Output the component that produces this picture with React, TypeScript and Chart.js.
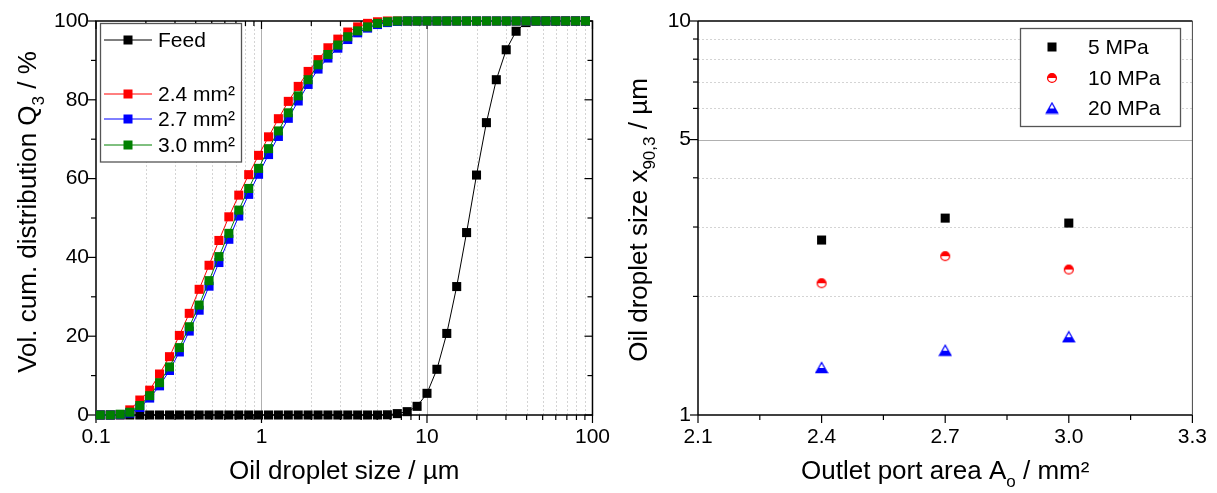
import React, { useEffect, useRef } from "react";
import { Chart, registerables } from "chart.js";
Chart.register(...registerables);

// ---------------- data: left panel (cumulative distribution) ----------------
const dropletSizes = [
  0.106, 0.122, 0.14, 0.16, 0.184, 0.211, 0.242, 0.278, 0.319, 0.366,
  0.42, 0.482, 0.553, 0.635, 0.729, 0.837, 0.96, 1.103, 1.265, 1.452,
  1.667, 1.913, 2.196, 2.52, 2.893, 3.321, 3.811, 4.375, 5.021, 5.763,
  6.614, 7.592, 8.713, 10.0, 11.48, 13.17, 15.12, 17.35, 19.92, 22.86,
  26.24, 30.11, 34.56, 39.67, 45.53, 52.26, 59.98, 68.85, 79.02, 90.7,
];
const feedQ3 = [
  0, 0, 0, 0, 0, 0, 0, 0, 0, 0,
  0, 0, 0, 0, 0, 0, 0, 0, 0, 0,
  0, 0, 0, 0, 0, 0, 0, 0, 0, 0.05,
  0.35, 0.85, 2.2, 5.5, 11.6, 20.7, 32.6, 46.3, 60.9, 74.2,
  85.1, 92.7, 97.4, 99.6, 100, 100, 100, 100, 100, 100,
];
const area24Q3 = [
  0, 0, 0.1, 1.3, 3.8, 6.3, 10.4, 14.8, 20.2, 25.8,
  31.9, 38.0, 44.3, 50.3, 55.8, 61.0, 65.9, 70.6, 75.2, 79.6,
  83.4, 87.2, 90.2, 93.2, 95.4, 97.2, 98.5, 99.4, 99.8, 100,
  100, 100, 100, 100, 100, 100, 100, 100, 100, 100,
  100, 100, 100, 100, 100, 100, 100, 100, 100, 100,
];
const area27Q3 = [
  0, 0, 0.1, 0.5, 1.9, 4.3, 7.4, 11.3, 16.0, 21.3,
  26.6, 32.7, 38.7, 44.6, 50.5, 56.0, 61.1, 66.1, 70.7, 75.3,
  79.7, 83.9, 87.8, 90.6, 93.1, 95.3, 97.0, 98.2, 99.1, 99.6,
  99.9, 100, 100, 100, 100, 100, 100, 100, 100, 100,
  100, 100, 100, 100, 100, 100, 100, 100, 100, 100,
];
const area30Q3 = [
  0, 0, 0.2, 0.7, 2.4, 4.9, 8.2, 12.2, 17.1, 22.4,
  27.9, 34.1, 40.2, 46.1, 52.0, 57.5, 62.6, 67.6, 72.1, 76.7,
  81.0, 85.1, 88.9, 91.5, 93.9, 96.0, 97.5, 98.5, 99.4, 99.8,
  100, 100, 100, 100, 100, 100, 100, 100, 100, 100,
  100, 100, 100, 100, 100, 100, 100, 100, 100, 100,
];
const leftSeriesLabels = ["Feed", "2.4 mm²", "2.7 mm²", "3.0 mm²"];
const sizeTicks = [0.1, 1, 10, 100];
const sizeMinorTicks = [0.2, 0.3, 0.4, 0.5, 0.6, 0.7, 0.8, 0.9, 2, 3, 4, 5, 6, 7, 8, 9, 20, 30, 40, 50, 60, 70, 80, 90];
const q3Ticks = [0, 20, 40, 60, 80, 100];
const q3MinorTicks = [10, 30, 50, 70, 90];

// ---------------- data: right panel (x90,3) ----------------
const outletAreas = [2.4, 2.7, 3.0];
const x90At5MPa = [2.78, 3.16, 3.07];
const x90At10MPa = [2.16, 2.53, 2.34];
const x90At20MPa = [1.32, 1.46, 1.58];
const rightSeriesLabels = ["5 MPa", "10 MPa", "20 MPa"];
const areaTicks = [2.1, 2.4, 2.7, 3.0, 3.3];
const areaMinorTicks = [2.25, 2.55, 2.85, 3.15];
const x90Ticks = [1, 5, 10];
const x90MinorTicks = [2, 3, 4, 6, 7, 8, 9];

// ---------------- styling ----------------
const FONT = "'Liberation Sans', Arial, Helvetica, sans-serif";
const TICK_PX = 21;
const TITLE_PX = 26;
const LEGEND_PX = 21;
const W = 1217;
const H = 493;
const LEFT_W = 620;
const RIGHT_X = 614;

type Part = { t: string; sub?: boolean };

function richText(ctx: CanvasRenderingContext2D, parts: Part[], cx: number, cy: number, size: number, vertical: boolean) {
  const main = `${size}px ${FONT}`;
  const sub = `${Math.round(size * 0.65)}px ${FONT}`;
  const widths = parts.map((p) => {
    ctx.font = p.sub ? sub : main;
    return ctx.measureText(p.t).width;
  });
  const total = widths.reduce((s, w) => s + w, 0);
  ctx.save();
  ctx.translate(cx, cy);
  if (vertical) ctx.rotate(-Math.PI / 2);
  ctx.textAlign = "left";
  ctx.textBaseline = "alphabetic";
  ctx.fillStyle = "#000";
  let x = -total / 2;
  const base = size * 0.36;
  parts.forEach((p, i) => {
    ctx.font = p.sub ? sub : main;
    ctx.fillText(p.t, x, base + (p.sub ? size * 0.3 : 0));
    x += widths[i];
  });
  ctx.restore();
}

function seg(ctx: CanvasRenderingContext2D, x1: number, y1: number, x2: number, y2: number) {
  ctx.beginPath();
  ctx.moveTo(x1, y1);
  ctx.lineTo(x2, y2);
  ctx.stroke();
}

function makeHalfCircle(color: string) {
  const c = document.createElement("canvas");
  c.width = 12;
  c.height = 12;
  const g = c.getContext("2d")!;
  const r = 4.4;
  g.fillStyle = "#fff";
  g.beginPath();
  g.arc(6, 6, r, 0, Math.PI * 2);
  g.fill();
  g.fillStyle = color;
  g.beginPath();
  g.arc(6, 6, r, Math.PI, 0);
  g.closePath();
  g.fill();
  g.strokeStyle = color;
  g.lineWidth = 1.3;
  g.beginPath();
  g.arc(6, 6, r, 0, Math.PI * 2);
  g.stroke();
  return c;
}

function makeHalfTriangle(color: string) {
  const c = document.createElement("canvas");
  c.width = 14;
  c.height = 13;
  const g = c.getContext("2d")!;
  const top = 1.5, bot = 11.5, l = 1.3, r = 12.7, mid = 7;
  g.fillStyle = "#fff";
  g.beginPath();
  g.moveTo(mid, top);
  g.lineTo(r, bot);
  g.lineTo(l, bot);
  g.closePath();
  g.fill();
  const ym = top + (bot - top) * 0.55;
  const hw = ((r - l) / 2) * 0.55;
  g.fillStyle = color;
  g.beginPath();
  g.moveTo(mid - hw, ym);
  g.lineTo(mid + hw, ym);
  g.lineTo(r, bot);
  g.lineTo(l, bot);
  g.closePath();
  g.fill();
  g.strokeStyle = color;
  g.lineWidth = 1.3;
  g.beginPath();
  g.moveTo(mid, top);
  g.lineTo(r, bot);
  g.lineTo(l, bot);
  g.closePath();
  g.stroke();
  return c;
}

const leftDecor = {
  id: "leftDecor",
  beforeDatasetsDraw(chart: any) {
    const { ctx, chartArea: a, scales } = chart;
    const x = scales.x, y = scales.y;
    ctx.save();
    ctx.lineWidth = 1;
    ctx.strokeStyle = "#d4d4d4";
    ctx.setLineDash([2, 2]);
    sizeMinorTicks.forEach((v) => {
      const px = Math.round(x.getPixelForValue(v)) + 0.5;
      seg(ctx, px, a.top, px, a.bottom);
    });
    ctx.setLineDash([]);
    ctx.strokeStyle = "#b0b0b0";
    sizeTicks.slice(1, -1).forEach((v) => {
      const px = Math.round(x.getPixelForValue(v)) + 0.5;
      seg(ctx, px, a.top, px, a.bottom);
    });
    // frame
    ctx.strokeStyle = "#000";
    ctx.lineWidth = 1.5;
    ctx.strokeRect(a.left, a.top, a.right - a.left, a.bottom - a.top);
    // ticks
    ctx.lineWidth = 1.2;
    sizeTicks.forEach((v) => {
      const px = x.getPixelForValue(v);
      seg(ctx, px, a.bottom, px, a.bottom + 8);
      seg(ctx, px, a.top, px, a.top + 8);
    });
    sizeMinorTicks.forEach((v) => {
      const px = x.getPixelForValue(v);
      seg(ctx, px, a.bottom, px, a.bottom + 5);
      seg(ctx, px, a.top, px, a.top + 5);
    });
    q3Ticks.forEach((v) => {
      const py = y.getPixelForValue(v);
      seg(ctx, a.left - 8, py, a.left, py);
      seg(ctx, a.right - 8, py, a.right, py);
    });
    q3MinorTicks.forEach((v) => {
      const py = y.getPixelForValue(v);
      seg(ctx, a.left - 5, py, a.left, py);
      seg(ctx, a.right - 5, py, a.right, py);
    });
    ctx.restore();
  },
  afterDraw(chart: any) {
    const { ctx, chartArea: a } = chart;
    richText(ctx, [{ t: "Oil droplet size / µm" }], (a.left + a.right) / 2, 470, TITLE_PX, false);
    richText(ctx, [{ t: "Vol. cum. distribution Q" }, { t: "3", sub: true }, { t: " / %" }], 27, (a.top + a.bottom) / 2 - 6, TITLE_PX, true);
    // legend
    ctx.save();
    const bx = 100.5, by = 23.5, bw = 141, bh = 138.5;
    ctx.fillStyle = "#fff";
    ctx.fillRect(bx, by, bw, bh);
    ctx.strokeStyle = "#555";
    ctx.lineWidth = 1.3;
    ctx.strokeRect(bx, by, bw, bh);
    const rows = [40, 94, 119, 145];
    chart.data.datasets.forEach((ds: any, i: number) => {
      const ry = rows[i];
      ctx.strokeStyle = ds.borderColor;
      ctx.lineWidth = 1;
      seg(ctx, 104, ry, 152, ry);
      ctx.fillStyle = ds.pointBackgroundColor;
      ctx.fillRect(128 - 4.5, ry - 4.5, 9, 9);
      ctx.fillStyle = "#000";
      ctx.font = `${LEGEND_PX}px ${FONT}`;
      ctx.textAlign = "left";
      ctx.textBaseline = "middle";
      ctx.fillText(ds.label, 158, ry + 1);
    });
    ctx.restore();
  },
};

const rightDecor = {
  id: "rightDecor",
  beforeDatasetsDraw(chart: any) {
    const { ctx, chartArea: a, scales } = chart;
    const x = scales.x, y = scales.y;
    ctx.save();
    ctx.lineWidth = 1;
    ctx.strokeStyle = "#d4d4d4";
    ctx.setLineDash([2, 2]);
    x90MinorTicks.forEach((v) => {
      const py = Math.round(y.getPixelForValue(v)) + 0.5;
      seg(ctx, a.left, py, a.right, py);
    });
    ctx.setLineDash([]);
    ctx.strokeStyle = "#b0b0b0";
    x90Ticks.slice(1, -1).forEach((v) => {
      const py = Math.round(y.getPixelForValue(v)) + 0.5;
      seg(ctx, a.left, py, a.right, py);
    });
    ctx.strokeStyle = "#000";
    ctx.lineWidth = 1.5;
    seg(ctx, a.left, a.top, a.right, a.top);
    seg(ctx, a.left, a.top, a.left, a.bottom);
    seg(ctx, a.left, a.bottom, a.right, a.bottom);
    ctx.strokeStyle = "#444";
    ctx.lineWidth = 1;
    seg(ctx, a.right, a.top, a.right, a.bottom);
    ctx.strokeStyle = "#000";
    ctx.lineWidth = 1.2;
    areaTicks.forEach((v) => {
      const px = x.getPixelForValue(v);
      seg(ctx, px, a.bottom, px, a.bottom + 8);
    });
    areaMinorTicks.forEach((v) => {
      const px = x.getPixelForValue(v);
      seg(ctx, px, a.bottom, px, a.bottom + 5);
    });
    x90Ticks.forEach((v) => {
      const py = y.getPixelForValue(v);
      seg(ctx, a.left - 8, py, a.left, py);
    });
    x90MinorTicks.forEach((v) => {
      const py = y.getPixelForValue(v);
      seg(ctx, a.left - 5, py, a.left, py);
    });
    ctx.restore();
  },
  afterDraw(chart: any) {
    const { ctx, chartArea: a } = chart;
    richText(ctx, [{ t: "Outlet port area A" }, { t: "o", sub: true }, { t: " / mm²" }], (a.left + a.right) / 2, 470, TITLE_PX, false);
    richText(ctx, [{ t: "Oil droplet size x" }, { t: "90,3", sub: true }, { t: " / µm" }], 24, (a.top + a.bottom) / 2 + 2, TITLE_PX, true);
    ctx.save();
    const bx = 406.5, by = 28.5, bw = 160, bh = 98;
    ctx.fillStyle = "#fff";
    ctx.fillRect(bx, by, bw, bh);
    ctx.strokeStyle = "#555";
    ctx.lineWidth = 1.3;
    ctx.strokeRect(bx, by, bw, bh);
    const rows = [47, 78, 108];
    chart.data.datasets.forEach((ds: any, i: number) => {
      const ry = rows[i];
      const st = ds.pointStyle;
      if (st === "rect") {
        ctx.fillStyle = ds.pointBackgroundColor;
        ctx.fillRect(438 - 4.5, ry - 4.5, 9, 9);
      } else {
        ctx.drawImage(st, 438 - st.width / 2, ry - st.height / 2);
      }
      ctx.fillStyle = "#000";
      ctx.font = `${LEGEND_PX}px ${FONT}`;
      ctx.textAlign = "left";
      ctx.textBaseline = "middle";
      ctx.fillText(ds.label, 474, ry + 1);
    });
    ctx.restore();
  },
};

const tickFont = { family: FONT, size: TICK_PX };

export default function App() {
  const leftRef = useRef<HTMLCanvasElement>(null);
  const rightRef = useRef<HTMLCanvasElement>(null);

  useEffect(() => {
    Chart.defaults.font.family = FONT;
    Chart.defaults.color = "#000";
    const colors = ["#000000", "#ff0000", "#0000ff", "#008000"];
    const series = [feedQ3, area24Q3, area27Q3, area30Q3];
    const drawOrder = [3, 2, 1, 0];
    const left = new Chart(leftRef.current!, {
      type: "line",
      data: {
        datasets: series.map((vals, i) => ({
          label: leftSeriesLabels[i],
          data: dropletSizes.map((s, k) => ({ x: s, y: vals[k] })),
          borderColor: colors[i],
          backgroundColor: colors[i],
          pointBackgroundColor: colors[i],
          pointBorderWidth: 0,
          pointStyle: "rect",
          pointRadius: 6.4,
          borderWidth: 1,
          tension: 0,
          clip: false,
          order: drawOrder[i],
        })),
      },
      options: {
        responsive: false,
        animation: false,
        events: [],
        layout: { padding: { left: 0, top: 21, right: 26, bottom: 0 } },
        plugins: { legend: { display: false }, tooltip: { enabled: false } },
        scales: {
          x: {
            type: "logarithmic",
            min: 0.1,
            max: 100,
            afterBuildTicks: (s: any) => {
              s.ticks = sizeTicks.map((v) => ({ value: v }));
            },
            afterFit: (s: any) => {
              s.height = H - 415;
            },
            ticks: {
              font: tickFont,
              color: "#000",
              padding: 10,
              maxRotation: 0,
              autoSkip: false,
              callback: (v: any) => String(v),
            },
            grid: { display: false, drawTicks: false },
            border: { display: false },
          },
          y: {
            type: "linear",
            min: 0,
            max: 100,
            afterBuildTicks: (s: any) => {
              s.ticks = q3Ticks.map((v) => ({ value: v }));
            },
            afterFit: (s: any) => {
              s.width = 96;
            },
            ticks: { font: tickFont, color: "#000", padding: 7, callback: (v: any) => String(v) },
            grid: { display: false, drawTicks: false },
            border: { display: false },
          },
        },
      } as any,
      plugins: [leftDecor],
    });

    const halfCircle = makeHalfCircle("#ff0000");
    const halfTri = makeHalfTriangle("#0000ff");
    const rSeries = [x90At5MPa, x90At10MPa, x90At20MPa];
    const rColors = ["#000000", "#ff0000", "#0000ff"];
    const rStyles: any[] = ["rect", halfCircle, halfTri];
    const right = new Chart(rightRef.current!, {
      type: "scatter",
      data: {
        datasets: rSeries.map((vals, i) => ({
          label: rightSeriesLabels[i],
          data: outletAreas.map((a, k) => ({ x: a, y: vals[k] })),
          pointStyle: rStyles[i],
          pointBackgroundColor: rColors[i],
          backgroundColor: rColors[i],
          borderColor: rColors[i],
          pointBorderWidth: 0,
          pointRadius: 6.4,
          showLine: false,
          clip: false,
        })),
      },
      options: {
        responsive: false,
        animation: false,
        events: [],
        layout: { padding: { left: 0, top: 21, right: 20, bottom: 0 } },
        plugins: { legend: { display: false }, tooltip: { enabled: false } },
        scales: {
          x: {
            type: "linear",
            min: 2.1,
            max: 3.3,
            afterBuildTicks: (s: any) => {
              s.ticks = areaTicks.map((v) => ({ value: v }));
            },
            afterFit: (s: any) => {
              s.height = H - 415;
            },
            ticks: {
              font: tickFont,
              color: "#000",
              padding: 10,
              maxRotation: 0,
              autoSkip: false,
              callback: (v: any) => Number(v).toFixed(1),
            },
            grid: { display: false, drawTicks: false },
            border: { display: false },
          },
          y: {
            type: "logarithmic",
            min: 1,
            max: 10,
            afterBuildTicks: (s: any) => {
              s.ticks = x90Ticks.map((v) => ({ value: v }));
            },
            afterFit: (s: any) => {
              s.width = 84;
            },
            ticks: { font: tickFont, color: "#000", padding: 7, callback: (v: any) => String(v) },
            grid: { display: false, drawTicks: false },
            border: { display: false },
          },
        },
      } as any,
      plugins: [rightDecor],
    });
    return () => {
      left.destroy();
      right.destroy();
    };
  }, []);

  return (
    <div style={{ position: "fixed", left: 0, top: 0, width: W, height: H, background: "#fff", overflow: "hidden" }}>
      <canvas ref={leftRef} width={LEFT_W} height={H} style={{ position: "absolute", left: 0, top: 0 }} />
      <canvas ref={rightRef} width={W - RIGHT_X} height={H} style={{ position: "absolute", left: RIGHT_X, top: 0 }} />
    </div>
  );
}
